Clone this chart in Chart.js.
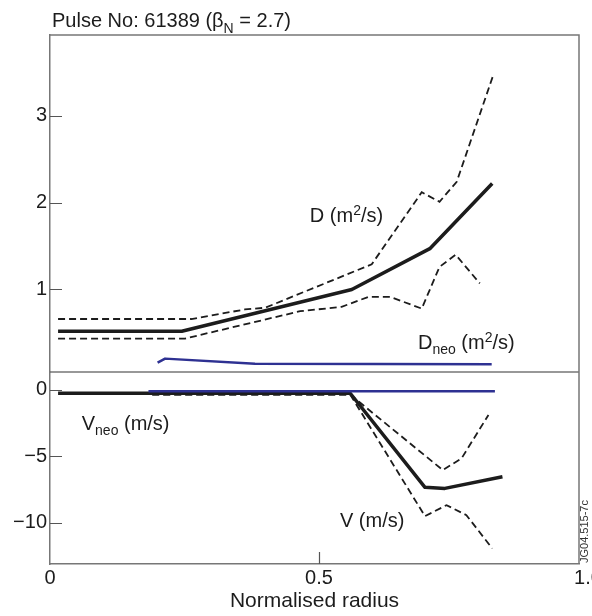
<!DOCTYPE html>
<html lang="en">
<head>
  <meta charset="UTF-8" />
  <title>Pulse No: 61389</title>
  <script src="https://cdn.jsdelivr.net/npm/chart.js"></script>
  <style>
    html, body { margin: 0; padding: 0; background: #fff; }
    #chart { display: block; }
  </style>
</head>
<body>
  <canvas id="chart" width="592" height="616"></canvas>

  <script>
    // D profiles (top panel)
    const dRadius = [0.015, 0.245, 0.561, 0.706, 0.822];
    const dValues = [0.52, 0.52, 1.00, 1.47, 2.22];
    const dUpperRadius = [0.015, 0.263, 0.362, 0.40, 0.598, 0.691, 0.724, 0.756, 0.824];
    const dUpperValues = [0.66, 0.66, 0.77, 0.79, 1.29, 2.12, 2.01, 2.24, 3.47];
    const dLowerRadius = [0.015, 0.251, 0.465, 0.542, 0.592, 0.632, 0.691, 0.724, 0.754, 0.799];
    const dLowerValues = [0.435, 0.435, 0.75, 0.80, 0.915, 0.915, 0.78, 1.26, 1.40, 1.07];
    const dNeoRadius = [0.20, 0.214, 0.381, 0.821];
    const dNeoValues = [0.157, 0.204, 0.146, 0.138];

    // V profiles (bottom panel)
    const vRadius = [0.015, 0.558, 0.697, 0.734, 0.841];
    const vValues = [-0.25, -0.25, -7.33, -7.41, -6.53];
    const vUpperRadius = [0.19, 0.558, 0.730, 0.765, 0.815];
    const vUpperValues = [-0.35, -0.35, -6.03, -5.15, -1.88];
    const vLowerRadius = [0.19, 0.558, 0.697, 0.737, 0.774, 0.822];
    const vLowerValues = [-0.35, -0.35, -9.5, -8.67, -9.42, -11.93];
    const vNeoRadius = [0.183, 0.827];
    const vNeoValues = [-0.1, -0.1];

    // ticks
    const xTicks = [0, 0.5, 1.0];
    const xTickLabels = ['0', '0.5', '1.0'];
    const dTicks = [1, 2, 3];
    const dTickLabels = ['1', '2', '3'];
    const vTicks = [0, -5, -10];
    const vTickLabels = ['0', '\u22125', '\u221210'];

    const FONT = '"Liberation Sans", Arial, Helvetica, sans-serif';
    const INK = '#1c1c1c';
    const FRAME = '#777';
    const NAVY = '#2e3192';

    function pts(xs, ys) {
      return xs.map((x, i) => ({ x: x, y: ys[i] }));
    }

    function line(data, axis, opts) {
      return Object.assign({
        data: data,
        yAxisID: axis,
        borderColor: INK,
        borderWidth: 3.5,
        pointRadius: 0,
        tension: 0,
        fill: false,
        borderJoinStyle: 'round'
      }, opts);
    }

    const dash = { borderWidth: 1.8, borderDash: [7, 4], borderJoinStyle: 'miter', order: 3 };

    const datasets = [
      line(pts(dNeoRadius, dNeoValues), 'yD', { borderColor: NAVY, borderWidth: 2.5, order: 0 }),
      line(pts(vNeoRadius, vNeoValues), 'yV', { borderColor: NAVY, borderWidth: 2.5, order: 0 }),
      line(pts(dRadius, dValues), 'yD', { order: 2 }),
      line(pts(vRadius, vValues), 'yV', { order: 2 }),
      line(pts(dUpperRadius, dUpperValues), 'yD', dash),
      line(pts(dLowerRadius, dLowerValues), 'yD', dash),
      line(pts(vUpperRadius, vUpperValues), 'yV', dash),
      line(pts(vLowerRadius, vLowerValues), 'yV', dash)
    ];

    // text labels placed in data units: [text, shift] with shift -1 = subscript, 1 = superscript
    const notes = [
      { axis: 'yD', x: 0.483, y: 1.78, parts: [['D (m', 0], ['2', 1], ['/s)', 0]] },
      { axis: 'yD', x: 0.684, y: 0.32, parts: [['D', 0], ['neo', -1], [' (m', 0], ['2', 1], ['/s)', 0]] },
      { axis: 'yV', x: 0.059, y: -3.0, parts: [['V', 0], ['neo', -1], [' (m/s)', 0]] },
      { axis: 'yV', x: 0.539, y: -10.3, parts: [['V (m/s)', 0]] }
    ];

    function drawRich(ctx, parts, x, y, size) {
      ctx.textAlign = 'left';
      ctx.textBaseline = 'alphabetic';
      let cx = x;
      parts.forEach(p => {
        const small = p[1] !== 0;
        ctx.font = (small ? Math.round(size * 0.7) : size) + 'px ' + FONT;
        const dy = p[1] === -1 ? size * 0.28 : (p[1] === 1 ? -size * 0.35 : 0);
        ctx.fillText(p[0], cx, y + dy);
        cx += ctx.measureText(p[0]).width;
      });
    }

    const framePlugin = {
      id: 'frame',
      afterDraw(chart) {
        const ctx = chart.ctx;
        const a = chart.chartArea;
        const yD = chart.scales.yD;
        const yV = chart.scales.yV;
        const x = chart.scales.x;
        ctx.save();

        // box top, right side and panel separator
        ctx.strokeStyle = FRAME;
        ctx.lineWidth = 1.5;
        ctx.beginPath();
        ctx.moveTo(a.left, a.top);
        ctx.lineTo(a.right, a.top);
        ctx.lineTo(a.right, a.bottom);
        ctx.moveTo(a.left, yD.bottom);
        ctx.lineTo(a.right, yD.bottom);
        ctx.stroke();

        // inward tick marks
        ctx.strokeStyle = '#555';
        ctx.lineWidth = 1.2;
        ctx.beginPath();
        [yD, yV].forEach(s => {
          s.ticks.forEach(t => {
            const py = Math.round(s.getPixelForValue(t.value)) + 0.5;
            ctx.moveTo(a.left, py);
            ctx.lineTo(a.left + 12, py);
          });
        });
        x.ticks.forEach(t => {
          const px = Math.round(x.getPixelForValue(t.value)) + 0.5;
          if (px > a.left + 2 && px < a.right - 2) {
            ctx.moveTo(px, a.bottom);
            ctx.lineTo(px, a.bottom - 12);
          }
        });
        ctx.stroke();

        // title
        ctx.fillStyle = INK;
        drawRich(ctx, [['Pulse No: 61389 (\u03B2', 0], ['N', -1], [' = 2.7)', 0]], a.left + 2, 27, 20);

        // curve labels
        notes.forEach(n => {
          const s = chart.scales[n.axis];
          drawRich(ctx, n.parts, x.getPixelForValue(n.x), s.getPixelForValue(n.y), 20);
        });

        // figure id
        ctx.translate(590, a.bottom - 1);
        ctx.rotate(-Math.PI / 2);
        ctx.font = '11px ' + FONT;
        ctx.fillStyle = '#333';
        ctx.textBaseline = 'bottom';
        ctx.fillText('JG04.515-7c', 0, 0);
        ctx.restore();
      }
    };

    const tickFont = { family: FONT, size: 20 };

    function yAxis(ticks, labels, min, max, weight, stackWeight) {
      return {
        type: 'linear',
        position: 'left',
        stack: 'panels',
        stackWeight: stackWeight,
        weight: weight,
        min: min,
        max: max,
        grid: { display: false, drawTicks: false },
        border: { display: true, color: FRAME, width: 1.5 },
        ticks: {
          font: tickFont,
          color: INK,
          padding: 3,
          autoSkip: false,
          callback: (v, i) => labels[i]
        },
        afterBuildTicks: s => { s.ticks = ticks.map(v => ({ value: v })); },
        afterFit: s => { s.width = 50; s.paddingTop = 0; s.paddingBottom = 0; }
      };
    }

    new Chart(document.getElementById('chart').getContext('2d'), {
      type: 'line',
      data: { datasets: datasets },
      options: {
        responsive: false,
        animation: false,
        layout: { padding: { top: 35, right: 13, left: 0, bottom: 0 } },
        plugins: { legend: { display: false }, tooltip: { enabled: false } },
        scales: {
          x: {
            type: 'linear',
            position: 'bottom',
            min: 0,
            max: 0.9833,
            grid: { display: false, drawTicks: false },
            border: { display: true, color: FRAME, width: 1.5 },
            ticks: {
              font: tickFont,
              color: INK,
              padding: 2,
              autoSkip: false,
              maxRotation: 0,
              callback: (v, i) => xTickLabels[i]
            },
            title: {
              display: true,
              text: 'Normalised radius',
              font: { family: FONT, size: 21 },
              color: INK,
              padding: { top: 0, bottom: 2 }
            },
            afterBuildTicks: s => { s.ticks = xTicks.map(v => ({ value: v })); },
            afterFit: s => { s.height = 52; s.paddingLeft = 0; s.paddingRight = 0; }
          },
          yD: yAxis(dTicks, dTickLabels, 0.05, 3.93, 2, 337),
          yV: yAxis(vTicks, vTickLabels, -13.1, 1.35, 1, 192)
        }
      },
      plugins: [framePlugin]
    });
  </script>
</body>
</html>
